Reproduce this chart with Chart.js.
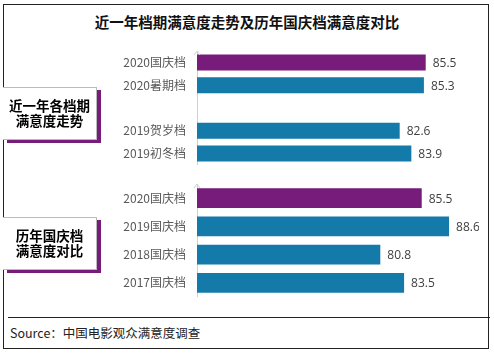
<!DOCTYPE html>
<html><head><meta charset="utf-8">
<script src="https://cdn.jsdelivr.net/npm/chart.js@4"></script>
<style>
html,body{margin:0;padding:0;background:#fff;}
#wrap{position:relative;width:494px;height:355px;overflow:hidden;font-family:"Noto Sans CJK SC","Noto Sans",sans-serif;}
#frame{position:absolute;left:3px;top:4px;width:486px;height:345px;border:1.5px solid #222;box-sizing:border-box;}
#title{position:absolute;left:0;top:12px;width:494px;text-align:center;font-size:14.5px;font-weight:bold;color:#111;line-height:20px;}
.c{position:absolute;}
.tag{position:absolute;left:3px;width:94px;background:#fff;border:1px solid #bbb;border-left:none;box-shadow:4px 3px 0 #771c7a;text-align:center;font-weight:bold;font-size:13.5px;color:#000;line-height:15px;box-sizing:border-box;}
#sep{position:absolute;left:8px;top:317px;width:482px;height:0;border-top:1px solid #222;}
#src{position:absolute;left:10px;top:324px;font-size:12.5px;color:#222;line-height:18px;}
</style></head>
<body>
<div id="wrap">
<div id="frame"></div>
<div id="title">近一年档期满意度走势及历年国庆档满意度对比</div>
<div class="c" style="left:0;top:51px;width:484px;height:114px;"><canvas id="c1"></canvas></div>
<div class="c" style="left:0;top:184px;width:479px;height:113px;"><canvas id="c2"></canvas></div>
<div class="tag" style="top:87px;height:53px;padding-top:10px;">近一年各档期<br>满意度走势</div>
<div class="tag" style="top:217px;height:53px;padding-top:10px;">历年国庆档<br>满意度对比</div>
<div id="sep"></div>
<div id="src">Source：中国电影观众满意度调查</div>
</div>
<script>
const PURPLE = '#771c7a';
const BLUE = '#137aaa';

const recentLabels = ['2020国庆档', '2020暑期档', '', '2019贺岁档', '2019初冬档'];
const recentValues = [85.5, 85.3, null, 82.6, 83.9];
const recentColors = [PURPLE, BLUE, BLUE, BLUE, BLUE];

const nationalLabels = ['2020国庆档', '2019国庆档', '2018国庆档', '2017国庆档'];
const nationalValues = [85.5, 88.6, 80.8, 83.5];
const nationalColors = [PURPLE, BLUE, BLUE, BLUE];

const valueLabels = {
  id: 'valueLabels',
  afterDatasetsDraw(chart) {
    const ctx = chart.ctx;
    const meta = chart.getDatasetMeta(0);
    const data = chart.data.datasets[0].data;
    ctx.save();
    ctx.font = '12px "Open Sans", sans-serif';
    ctx.fillStyle = '#404040';
    ctx.textAlign = 'left';
    ctx.textBaseline = 'middle';
    meta.data.forEach((bar, i) => {
      if (data[i] == null) return;
      ctx.fillText(data[i].toFixed(1), bar.x + 7, bar.y + 1);
    });
    ctx.restore();
  }
};

const axisArrow = {
  id: 'axisArrow',
  afterDraw(chart) {
    const ctx = chart.ctx;
    const a = chart.chartArea;
    ctx.save();
    ctx.strokeStyle = '#d0d0d0';
    ctx.lineWidth = 1;
    ctx.beginPath();
    ctx.moveTo(a.left - 3, a.top + 4);
    ctx.lineTo(a.left, a.top);
    ctx.lineTo(a.left + 3, a.top + 4);
    ctx.stroke();
    ctx.restore();
  }
};

function makeChart(id, labels, values, colors) {
  return new Chart(document.getElementById(id), {
    type: 'bar',
    data: {
      labels: labels,
      datasets: [{
        data: values,
        backgroundColor: colors,
        barPercentage: 0.7,
        categoryPercentage: 1.0
      }]
    },
    options: {
      indexAxis: 'y',
      responsive: true,
      maintainAspectRatio: false,
      animation: false,
      layout: { padding: 0 },
      plugins: { legend: { display: false }, tooltip: { enabled: false } },
      scales: {
        x: { display: false, min: 60, max: 92 },
        y: {
          grid: { display: false, drawTicks: false },
          border: { display: true, color: '#d0d0d0', width: 1 },
          ticks: {
            padding: 11,
            color: '#595959',
            font: { family: '"Noto Sans CJK SC", sans-serif', size: 12 }
          },
          afterFit(scale) {
            scale.width = 197;
            scale.paddingTop = 0;
            scale.paddingBottom = 0;
          }
        }
      }
    },
    plugins: [valueLabels, axisArrow]
  });
}

makeChart('c1', recentLabels, recentValues, recentColors);
makeChart('c2', nationalLabels, nationalValues, nationalColors);
</script>
</body></html>
